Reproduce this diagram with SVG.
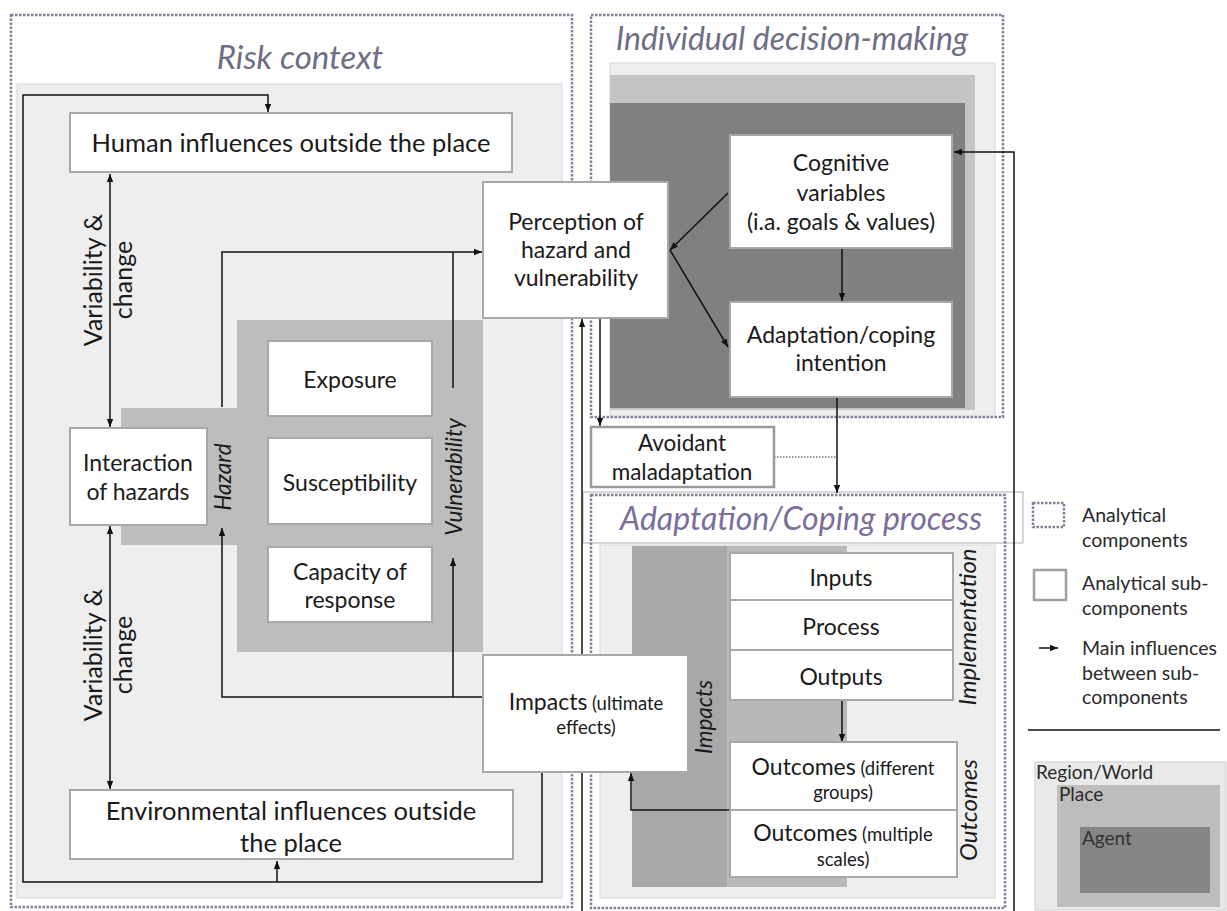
<svg xmlns="http://www.w3.org/2000/svg" width="1227" height="911" viewBox="0 0 1227 911">
<defs>
<style>
.t{font-family:Lato,"Open Sans","Liberation Sans",sans-serif;font-size:23px;fill:#1a1a1a;text-anchor:middle}
.s{font-size:18.5px}
.lg{font-family:Lato,"Open Sans","Liberation Sans",sans-serif;font-size:19.5px;fill:#2a2a2a}
.it{font-family:Lato,"Open Sans","Liberation Sans",sans-serif;font-style:italic;font-size:22.5px;fill:#1a1a1a;text-anchor:middle}
.title{font-family:Lato,"Open Sans","Liberation Sans",sans-serif;font-style:italic;font-size:32px;fill:#6e6e85;text-anchor:middle}
.box{fill:#fff;stroke:#a8a8a8;stroke-width:2}
.dot{fill:none;stroke:#80809a;stroke-width:2.5;stroke-dasharray:2.5 1.5}
.c{fill:none;stroke:#111;stroke-width:1.5}
.reg{fill:#eeeeee;stroke:#d6d6d6;stroke-width:1}
</style>
<marker id="ah" viewBox="0 0 10 10" refX="10" refY="5" markerWidth="9" markerHeight="8" markerUnits="userSpaceOnUse" orient="auto-start-reverse"><path d="M0,1 L10,5 L0,9 z" fill="#111"/></marker>
</defs>
<rect width="1227" height="911" fill="#fff"/>

<g id="backgrounds">
<rect class="reg" x="17" y="84" width="545" height="814"/>
<rect x="121" y="408" width="116" height="137" fill="#bdbdbd"/>
<rect x="237" y="320" width="246" height="332" fill="#bdbdbd"/>
<rect class="reg" x="610" y="63" width="385" height="354" fill="#e6e6e6"/>
<rect x="610" y="75" width="365" height="335" fill="#c4c4c4"/>
<rect x="610" y="103" width="355" height="305" fill="#808080"/>
<rect class="reg" x="600" y="545" width="395" height="353" fill="#ececec"/>
<rect x="632" y="546" width="215" height="341" fill="#b9b9b9"/>
<rect x="632" y="546" width="95" height="341" fill="#a8a8a8"/>
<rect x="583" y="492" width="440" height="51" fill="#fff" stroke="#b0b0b0" stroke-width="1"/>
</g>

<g id="components">
<rect class="dot" x="11" y="15" width="561" height="892"/>
<rect class="dot" x="591" y="15" width="412" height="402"/>
<rect class="dot" x="591" y="495" width="414" height="413"/>
<text class="title" x="300" y="69" style="font-size:33px">Risk context</text>
<text class="title" x="792" y="50">Individual decision-making</text>
<text class="title" x="801" y="530" style="fill:#7a6e9c">Adaptation/Coping process</text>
</g>

<g id="connectors">
<path class="c" d="M542,772 V882 H23 V95 H268 V112" marker-end="url(#ah)"/>
<path class="c" d="M277,882 V861" marker-end="url(#ah)"/>
<path class="c" d="M110,174 V427" marker-start="url(#ah)" marker-end="url(#ah)"/>
<path class="c" d="M110,526 V789" marker-start="url(#ah)" marker-end="url(#ah)"/>
<path class="c" d="M222,407 V252 H482" marker-end="url(#ah)"/>
<path class="c" d="M453,388 V252"/>
<path class="c" d="M483,697 H222 V528" marker-end="url(#ah)"/>
<path class="c" d="M453,697 V558" marker-end="url(#ah)"/>
<path class="c" d="M728,193 L670,250" marker-end="url(#ah)"/>
<path class="c" d="M670,250 L728,347" marker-end="url(#ah)"/>
<path class="c" d="M842,249 V301" marker-end="url(#ah)"/>
<path class="c" d="M1014,911 V152 H954" marker-end="url(#ah)"/>
<path class="c" d="M582,911 V319" marker-end="url(#ah)"/>
<path class="c" d="M600,319 V426" marker-end="url(#ah)"/>
<path class="c" d="M837,398 V493" marker-end="url(#ah)"/>
<path d="M774,457 H837" fill="none" stroke="#333" stroke-width="1.2" stroke-dasharray="1.5 1.5"/>
<path class="c" d="M842,701 V742" marker-end="url(#ah)"/>
<path class="c" d="M730,810 H631 V773" marker-end="url(#ah)"/>
</g>

<g id="human"><rect class="box" x="70" y="113" width="442" height="59"/><text class="t" x="291" y="152" style="font-size:25.5px">Human influences outside the place</text></g>
<g id="environmental"><rect class="box" x="70" y="790" width="443" height="69"/><text class="t" x="291" y="820" style="font-size:25.5px">Environmental influences outside</text><text class="t" x="291" y="852" style="font-size:25.5px">the place</text></g>
<g id="interaction"><rect class="box" x="70" y="428" width="137" height="97"/><text class="t" x="138" y="471">Interaction</text><text class="t" x="138" y="500">of hazards</text></g>
<g id="exposure"><rect class="box" x="268" y="341" width="164" height="75"/><text class="t" x="350" y="388">Exposure</text></g>
<g id="susceptibility"><rect class="box" x="268" y="438" width="164" height="86"/><text class="t" x="350" y="491">Susceptibility</text></g>
<g id="capacity"><rect class="box" x="268" y="547" width="164" height="75"/><text class="t" x="350" y="580">Capacity of</text><text class="t" x="350" y="608">response</text></g>
<g id="labels-risk">
<text class="t" transform="translate(102,280) rotate(-90)" style="font-size:25px">Variability &amp;</text>
<text class="t" transform="translate(132,280) rotate(-90)" style="font-size:25px">change</text>
<text class="t" transform="translate(102,655) rotate(-90)" style="font-size:25px">Variability &amp;</text>
<text class="t" transform="translate(132,655) rotate(-90)" style="font-size:25px">change</text>
<text class="it" transform="translate(231,477) rotate(-90)">Hazard</text>
<text class="it" transform="translate(462,477) rotate(-90)">Vulnerability</text>
</g>
<g id="perception"><rect class="box" x="483" y="182" width="185" height="136"/><text class="t" x="576" y="230">Perception of</text><text class="t" x="576" y="258">hazard and</text><text class="t" x="576" y="286">vulnerability</text></g>
<g id="impacts"><rect class="box" x="483" y="655" width="205" height="117"/><text class="t" x="586" y="710">Impacts<tspan class="s"> (ultimate</tspan></text><text class="t s" x="586" y="734">effects)</text></g>
<g id="cognitive"><rect class="box" x="730" y="135" width="222" height="113"/><text class="t" x="841" y="171">Cognitive</text><text class="t" x="841" y="201">variables</text><text class="t" x="841" y="230">(i.a. goals &amp; values)</text></g>
<g id="intention"><rect class="box" x="730" y="302" width="222" height="95"/><text class="t" x="841" y="343">Adaptation/coping</text><text class="t" x="841" y="371">intention</text></g>
<g id="avoidant"><rect class="box" x="591" y="427" width="183" height="60" style="stroke-width:2.5;stroke:#9a9a9a"/><text class="t" x="682" y="451" style="font-size:22.5px">Avoidant</text><text class="t" x="682" y="480" style="font-size:22.5px">maladaptation</text></g>
<g id="inputs"><rect class="box" x="730" y="553" width="223" height="47"/><text class="t" x="841" y="586">Inputs</text></g>
<g id="process"><rect class="box" x="730" y="600" width="223" height="50"/><text class="t" x="841" y="635">Process</text></g>
<g id="outputs"><rect class="box" x="730" y="650" width="223" height="50"/><text class="t" x="841" y="685">Outputs</text></g>
<g id="outcomes-groups"><rect class="box" x="730" y="742" width="227" height="68"/><text class="t" x="843" y="775">Outcomes<tspan class="s"> (different</tspan></text><text class="t s" x="843" y="799">groups)</text></g>
<g id="outcomes-scales"><rect class="box" x="730" y="810" width="227" height="67"/><text class="t" x="843" y="841">Outcomes<tspan class="s"> (multiple</tspan></text><text class="t s" x="843" y="866">scales)</text></g>
<g id="labels-adapt">
<text class="it" transform="translate(976,627) rotate(-90)" style="font-size:24px">Implementation</text>
<text class="it" transform="translate(977,810) rotate(-90)" style="font-size:24px">Outcomes</text>
<text class="it" transform="translate(712,717) rotate(-90)">Impacts</text>
</g>

<g id="legend">
<rect x="1033" y="503" width="31" height="24" fill="none" stroke="#80809a" stroke-width="2.5" stroke-dasharray="2.5 1.5"/>
<text class="lg" x="1082" y="522">Analytical</text>
<text class="lg" x="1082" y="547">components</text>
<rect x="1034" y="570" width="32" height="30" fill="#fff" stroke="#a0a0a0" stroke-width="2.5"/>
<text class="lg" x="1082" y="590">Analytical sub-</text>
<text class="lg" x="1082" y="615">components</text>
<path class="c" d="M1039,648 H1058" marker-end="url(#ah)"/>
<text class="lg" x="1082" y="655">Main influences</text>
<text class="lg" x="1082" y="680">between sub-</text>
<text class="lg" x="1082" y="704">components</text>
<path d="M1028,730 H1220" stroke="#111" stroke-width="1.5"/>
<rect x="1035" y="762" width="191" height="148" fill="#e9e9e9" stroke="#d0d0d0" stroke-width="1"/>
<rect x="1057" y="785" width="163" height="122" fill="#bdbdbd"/>
<rect x="1080" y="827" width="130" height="66" fill="#858585"/>
<text class="lg" x="1036" y="779" style="font-size:19px">Region/World</text>
<text class="lg" x="1059" y="801" style="font-size:19px">Place</text>
<text class="lg" x="1082" y="845" style="font-size:19px;fill:#333">Agent</text>
</g>
</svg>
